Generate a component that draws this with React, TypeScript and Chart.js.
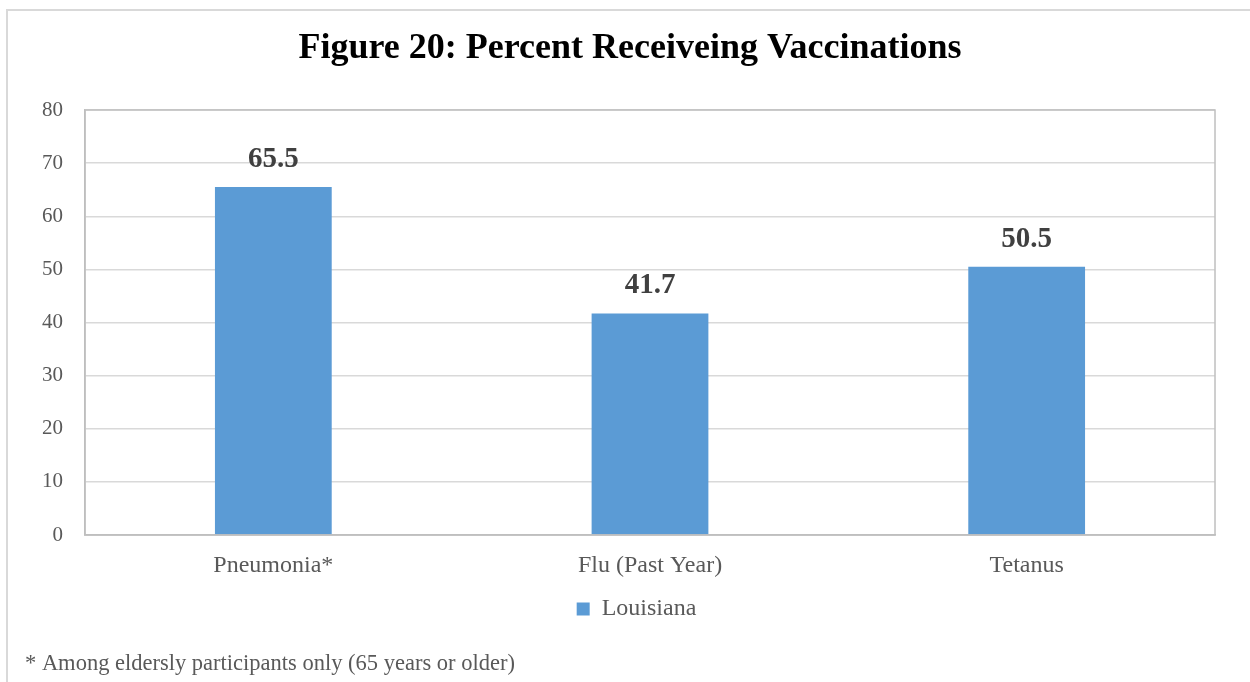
import React, { useEffect, useRef } from "react";
import { Chart, registerables } from "chart.js";

Chart.register(...registerables);

const categories: string[] = ["Pneumonia*", "Flu (Past Year)", "Tetanus"];
const louisiana: number[] = [65.5, 41.7, 50.5];
const seriesName = "Louisiana";
const chartTitle = "Figure 20: Percent Receiveing Vaccinations";
const footnote = "* Among eldersly participants only (65 years or older)";
const yMin = 0;
const yMax = 80;
const yStep = 10;

const SERIF = "'Liberation Serif', 'Times New Roman', serif";
const BAR_BLUE = "#5b9bd5";
const GRID = "#d9d9d9";
const FRAME = "#bfbfbf";
const TEXT_GRAY = "#595959";

// Outer frame, heading, plot-area border and footnote
const decorations = {
  id: "decorations",
  afterLayout(chart: any) {
    // centre the legend on the whole frame rather than the padded layout box
    const legend = chart.legend;
    if (legend) {
      legend.left += 29;
      legend.right += 29;
    }
  },
  beforeDraw(chart: any) {
    const { ctx } = chart;
    ctx.save();
    ctx.fillStyle = "#ffffff";
    ctx.fillRect(0, 0, chart.width, chart.height);
    ctx.strokeStyle = GRID;
    ctx.lineWidth = 2;
    ctx.beginPath();
    ctx.moveTo(7, chart.height + 2);
    ctx.lineTo(7, 10);
    ctx.lineTo(chart.width + 2, 10);
    ctx.stroke();

    ctx.fillStyle = "#000000";
    ctx.font = `bold 36px ${SERIF}`;
    ctx.textAlign = "center";
    ctx.textBaseline = "alphabetic";
    ctx.fillText(chartTitle, 630, 58);
    ctx.restore();
  },
  afterDraw(chart: any) {
    const { ctx, chartArea } = chart;
    ctx.save();
    ctx.strokeStyle = FRAME;
    ctx.lineWidth = 1.5;
    ctx.strokeRect(chartArea.left, chartArea.top, chartArea.right - chartArea.left, chartArea.bottom - chartArea.top);
    ctx.fillStyle = TEXT_GRAY;
    ctx.font = `22.5px ${SERIF}`;
    ctx.textAlign = "left";
    ctx.textBaseline = "alphabetic";
    ctx.fillText(footnote, 25, 670);
    ctx.restore();
  },
};

// Value labels above each bar
const barValueLabels = {
  id: "barValueLabels",
  afterDatasetsDraw(chart: any) {
    const { ctx } = chart;
    const meta = chart.getDatasetMeta(0);
    ctx.save();
    ctx.fillStyle = "#404040";
    ctx.font = `bold 29px ${SERIF}`;
    ctx.textAlign = "center";
    ctx.textBaseline = "alphabetic";
    meta.data.forEach((bar: any, i: number) => {
      const v = chart.data.datasets[0].data[i] as number;
      ctx.fillText(v.toFixed(1), bar.x, bar.y - 20);
    });
    ctx.restore();
  },
};

export default function App() {
  const canvasRef = useRef<HTMLCanvasElement | null>(null);

  useEffect(() => {
    if (!canvasRef.current) return;
    const chart = new Chart(canvasRef.current, {
      type: "bar",
      data: {
        labels: categories,
        datasets: [
          {
            label: seriesName,
            data: louisiana,
            backgroundColor: BAR_BLUE,
            borderWidth: 0,
            barPercentage: 0.31,
            categoryPercentage: 1,
          },
        ],
      },
      options: {
        animation: false,
        responsive: false,
        maintainAspectRatio: false,
        layout: { padding: { left: 0, right: 35, top: 110, bottom: 51 } },
        plugins: {
          title: { display: false },
          legend: {
            display: true,
            position: "bottom",
            labels: {
              color: TEXT_GRAY,
              font: { family: SERIF, size: 24 },
              boxWidth: 13,
              boxHeight: 13,
              padding: 10,
            },
          },
          tooltip: { enabled: false },
        },
        scales: {
          x: {
            grid: { display: false, drawTicks: false },
            border: { display: true, color: FRAME, width: 1.5 },
            ticks: {
              color: TEXT_GRAY,
              font: { family: SERIF, size: 24 },
              padding: 16,
            },
            afterFit(scale: any) {
              scale.height = 52;
            },
          },
          y: {
            min: yMin,
            max: yMax,
            grid: { color: GRID, lineWidth: 1.5, drawTicks: false },
            border: { display: true, color: FRAME, width: 1.5 },
            ticks: {
              stepSize: yStep,
              color: TEXT_GRAY,
              font: { family: SERIF, size: 21 },
              padding: 22,
            },
            afterFit(scale: any) {
              scale.width = 85;
            },
          },
        },
      },
      plugins: [decorations, barValueLabels],
    });
    return () => chart.destroy();
  }, []);

  return (
    <div style={{ position: "absolute", left: 0, top: 0, width: 1250, height: 682 }}>
      <canvas ref={canvasRef} width={1250} height={682} />
    </div>
  );
}
